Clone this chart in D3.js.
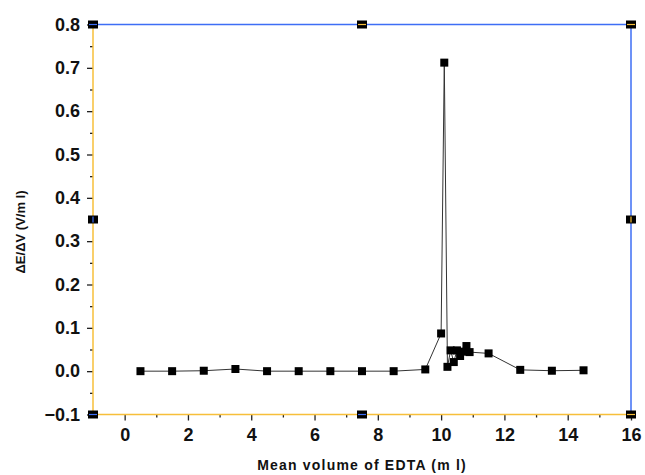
<!DOCTYPE html>
<html><head><meta charset="utf-8">
<script src="https://cdn.jsdelivr.net/npm/d3@7"></script>
<style>body{margin:0;background:#fff}svg{display:block}</style>
</head><body>
<svg id="c" width="645" height="475"></svg>
<script>
const volumes = [0.5,1.5,2.5,3.5,4.5,5.5,6.5,7.5,8.5,9.5,10.0,10.1,10.2,10.3,10.4,10.5,10.6,10.7,10.8,10.9,11.5,12.5,13.5,14.5];
const dEdV    = [0.0,0.0,0.001,0.005,0.0,0.0,0.0,0.0,0.0,0.004,0.087,0.712,0.01,0.048,0.021,0.048,0.035,0.045,0.058,0.044,0.041,0.003,0.001,0.002];
const xTicks = [0,2,4,6,8,10,12,14,16];
const yTicks = [-0.1,0.0,0.1,0.2,0.3,0.4,0.5,0.6,0.7,0.8];
const handleX = [-1,7.5,16];
const handleY = [-0.1,0.35,0.8];

const svg = d3.select('#c');
const x = d3.scaleLinear().domain([-1,16]).range([93,631]);
const y = d3.scaleLinear().domain([-0.1,0.8]).range([414.5,24.5]);
const orange = '#f7bf3a', blue = '#3d6ef5';
const font = '"Liberation Sans", Arial, sans-serif';

// x axis
const xAxis = d3.axisBottom(x).tickValues(xTicks).tickSize(6).tickFormat(d3.format('d'));
const gx = svg.append('g').attr('transform',`translate(0,${y(-0.1)})`).call(xAxis);
gx.select('.domain').remove();
gx.selectAll('.tick line').attr('stroke','#222').attr('stroke-width',1.3);
gx.selectAll('.tick text').attr('font-family',font).attr('font-weight','bold').attr('font-size',18).attr('fill','#111').attr('dy','0.95em');
const xMinor = d3.axisBottom(x).tickValues(d3.range(1,16,2)).tickSize(3).tickFormat('');
const gxm = svg.append('g').attr('transform',`translate(0,${y(-0.1)})`).call(xMinor);
gxm.select('.domain').remove();
gxm.selectAll('.tick line').attr('stroke','#222').attr('stroke-width',1.3);

// y axis
const yAxis = d3.axisLeft(y).tickValues(yTicks).tickSize(6).tickFormat(d3.format('.1f'));
const gy = svg.append('g').attr('transform',`translate(${x(-1)},0)`).call(yAxis);
gy.select('.domain').remove();
gy.selectAll('.tick line').attr('stroke','#222').attr('stroke-width',1.3);
gy.selectAll('.tick text').attr('font-family',font).attr('font-weight','bold').attr('font-size',18).attr('fill','#111').attr('x',-13);
const yMinor = d3.axisLeft(y).tickValues(d3.range(-0.05,0.8,0.1)).tickSize(3).tickFormat('');
const gym = svg.append('g').attr('transform',`translate(${x(-1)},0)`).call(yMinor);
gym.select('.domain').remove();
gym.selectAll('.tick line').attr('stroke','#222').attr('stroke-width',1.3);

// frame
const L=x(-1),R=x(16),T=y(0.8),B=y(-0.1);
svg.append('line').attr('x1',L).attr('x2',R).attr('y1',T).attr('y2',T).attr('stroke',blue).attr('stroke-width',1.5);
svg.append('line').attr('x1',R).attr('x2',R).attr('y1',T).attr('y2',B).attr('stroke',blue).attr('stroke-width',1.5);
svg.append('line').attr('x1',L).attr('x2',R).attr('y1',B).attr('y2',B).attr('stroke',orange).attr('stroke-width',1.5);
svg.append('line').attr('x1',L).attr('x2',L).attr('y1',T).attr('y2',B).attr('stroke',orange).attr('stroke-width',1.5);

// data line
const pts = volumes.map((v,i)=>[v,dEdV[i]]);
svg.append('path').datum(pts)
  .attr('d', d3.line().x(d=>x(d[0])).y(d=>y(d[1])))
  .attr('fill','none').attr('stroke','#333').attr('stroke-width',1);
svg.selectAll('rect.pt').data(pts).enter().append('rect').attr('class','pt')
  .attr('x',d=>x(d[0])-4).attr('y',d=>y(d[1])-4).attr('width',8).attr('height',8).attr('fill','#000');

// selection handles
const handles = [];
handleX.forEach(hx=>handleY.forEach(hy=>{ if(!(hx===7.5&&hy===0.35)) handles.push([hx,hy]); }));
const hg = svg.append('g');
handles.forEach(([hx,hy])=>{
  hg.append('rect').attr('x',x(hx)-5).attr('y',y(hy)-4).attr('width',10).attr('height',8).attr('fill','#000');
  const horiz = (hy===0.8||hy===-0.1);
  const col = (hy===0.8 && hx!==-1) ? orange : ((hx===16)? orange : blue);
  if(horiz) hg.append('line').attr('x1',x(hx)-4).attr('x2',x(hx)+4).attr('y1',y(hy)).attr('y2',y(hy)).attr('stroke',col).attr('stroke-width',1.2);
  else hg.append('line').attr('x1',x(hx)).attr('x2',x(hx)).attr('y1',y(hy)-3).attr('y2',y(hy)+3).attr('stroke',col).attr('stroke-width',1.2);
});

// titles
svg.append('text').attr('x',(L+R)/2).attr('y',470).attr('text-anchor','middle')
  .attr('font-family',font).attr('font-weight','bold').attr('font-size',14).attr('letter-spacing',1.2).attr('fill','#111')
  .text('Mean volume of EDTA (m l)');
svg.append('text').attr('transform','translate(25,232) rotate(-90)').attr('text-anchor','middle')
  .attr('font-family',font).attr('font-weight','bold').attr('font-size',13).attr('fill','#111')
  .text('ΔE/ΔV (V/m l)');
</script>
</body></html>
